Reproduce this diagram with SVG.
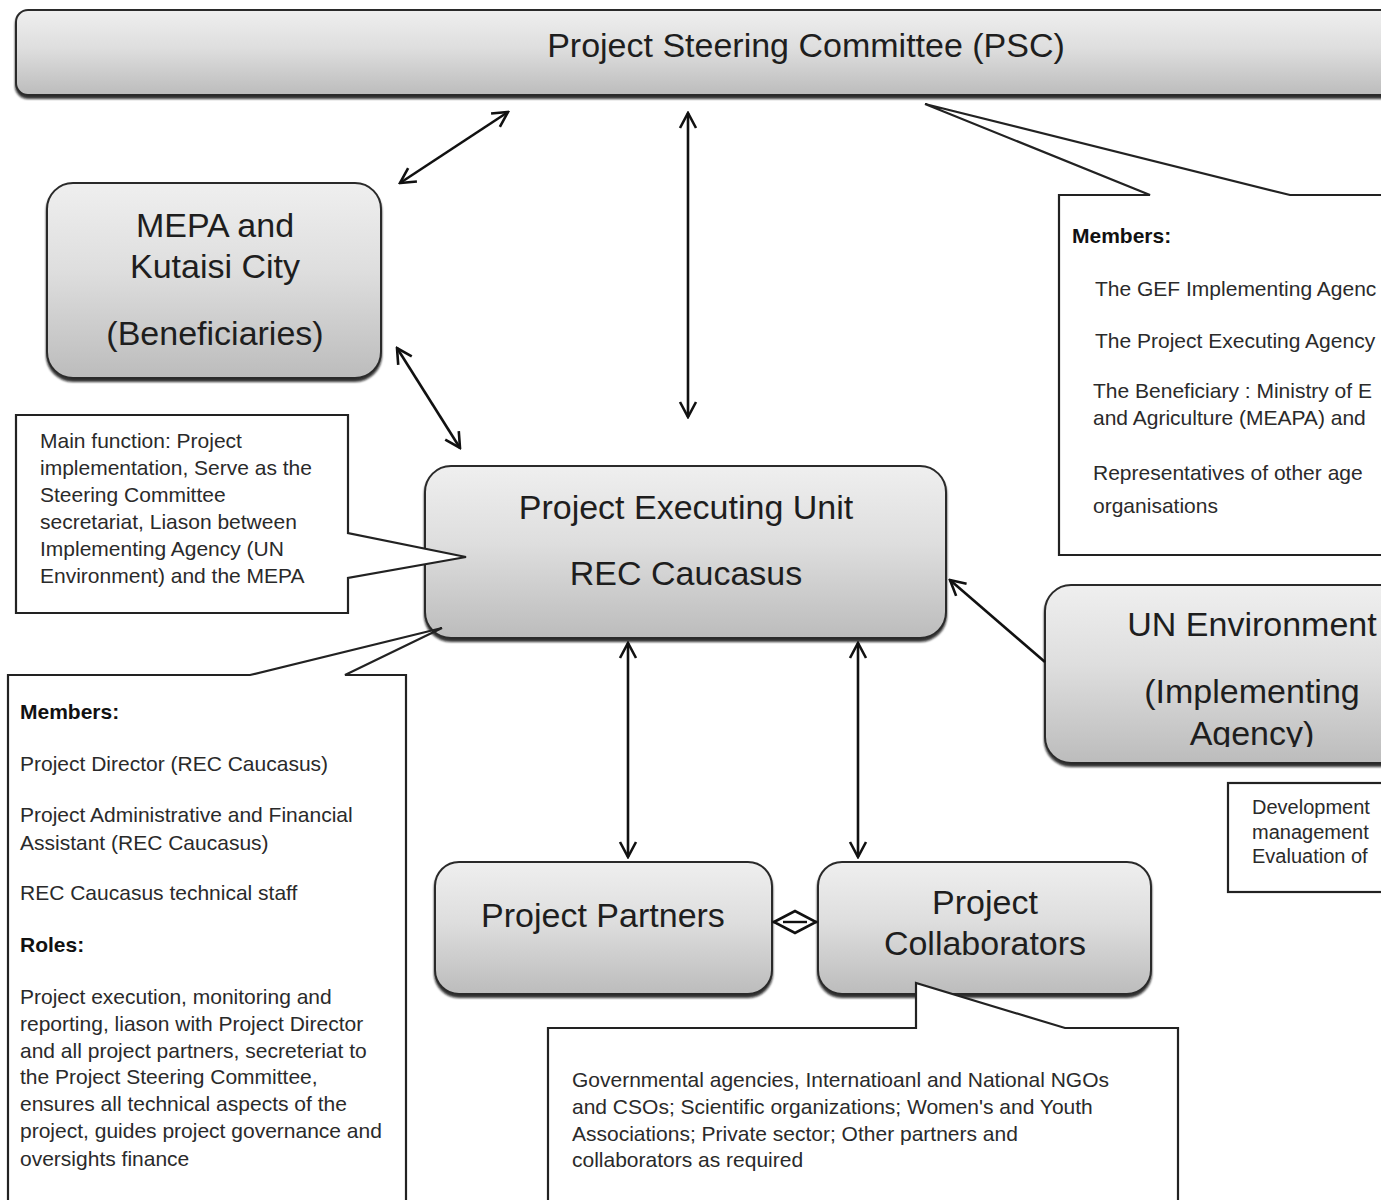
<svg xmlns="http://www.w3.org/2000/svg" width="1381" height="1200" viewBox="0 0 1381 1200">
  <style>
    .box { fill: url(#boxFill); stroke: #2b2b2b; stroke-width: 2; filter: url(#shadow); }
    .big { font-family: "Liberation Sans", Arial, sans-serif; font-size: 34px; fill: #1e1e1e; text-anchor: middle; }
    .note { fill: #fff; stroke: #222; stroke-width: 2.2; stroke-linejoin: miter; }
    .small { font-family: "Liberation Sans", Arial, sans-serif; font-size: 21px; fill: #2a2a2a; }
    .bold { font-weight: bold; fill: #111; }
    .link { stroke: #111; stroke-width: 2.6; fill: none; }
  </style>
  <defs>
    <linearGradient id="boxFill" x1="0" y1="0" x2="0" y2="1">
      <stop offset="0" stop-color="#efefef"/>
      <stop offset="0.45" stop-color="#dedede"/>
      <stop offset="1" stop-color="#bcbcbc"/>
    </linearGradient>
    <filter id="shadow" x="-5%" y="-5%" width="110%" height="120%">
      <feDropShadow dx="0" dy="3" stdDeviation="1.2" flood-color="#111" flood-opacity="0.85"/>
    </filter>
    <marker id="head" viewBox="0 0 20 20" refX="18" refY="10" markerWidth="20" markerHeight="20" markerUnits="userSpaceOnUse" orient="auto-start-reverse">
      <path d="M3,2 L18,10 L3,18" fill="none" stroke="#111" stroke-width="2.6"/>
    </marker>
    <clipPath id="unClip">
      <rect x="1040" y="580" width="345" height="167"/>
    </clipPath>
  </defs>

  <!-- Project Steering Committee -->
  <g id="psc">
    <rect class="box" x="16" y="10" width="1400" height="85" rx="12"/>
    <text class="big" x="806" y="57">Project Steering Committee (PSC)</text>
  </g>

  <!-- Beneficiaries -->
  <g id="mepa">
    <rect class="box" x="47" y="183" width="334" height="195" rx="26"/>
    <text class="big" x="215" y="237">MEPA and</text>
    <text class="big" x="215" y="278">Kutaisi City</text>
    <text class="big" x="215" y="345">(Beneficiaries)</text>
  </g>

  <!-- Project Executing Unit -->
  <g id="peu">
    <rect class="box" x="425" y="466" width="521" height="172" rx="26"/>
    <text class="big" x="686" y="519">Project Executing Unit</text>
    <text class="big" x="686" y="585">REC Caucasus</text>
  </g>

  <!-- Implementing agency -->
  <g id="un-environment">
    <rect class="box" x="1045" y="585" width="380" height="178" rx="26"/>
    <g clip-path="url(#unClip)">
      <text class="big" x="1252" y="636">UN Environment</text>
      <text class="big" x="1252" y="703">(Implementing</text>
      <text class="big" x="1252" y="745">Agency)</text>
    </g>
  </g>

  <!-- Partners and collaborators -->
  <g id="partners">
    <rect class="box" x="435" y="862" width="337" height="132" rx="24"/>
    <text class="big" x="603" y="927">Project Partners</text>
  </g>
  <g id="collaborators">
    <rect class="box" x="818" y="862" width="333" height="132" rx="24"/>
    <text class="big" x="985" y="914">Project</text>
    <text class="big" x="985" y="955">Collaborators</text>
  </g>

  <!-- Callout: PSC members -->
  <g id="psc-members">
    <path class="note" d="M1059,195 L1150,195 L925,104 L1290,195 L1400,195 L1400,555 L1059,555 Z"/>
    <text class="small bold" x="1072" y="243">Members:</text>
    <text class="small" x="1095" y="296">The GEF Implementing Agenc</text>
    <text class="small" x="1095" y="348">The Project Executing Agency</text>
    <text class="small" x="1093" y="398">The Beneficiary : Ministry of E</text>
    <text class="small" x="1093" y="425">and Agriculture (MEAPA) and</text>
    <text class="small" x="1093" y="480">Representatives of other age</text>
    <text class="small" x="1093" y="513">organisations</text>
  </g>

  <!-- Callout: PEU main function -->
  <g id="peu-function">
    <path class="note" d="M16,415 L348,415 L348,533 L466,557 L348,578 L348,613 L16,613 Z"/>
    <text class="small" x="40" y="448">Main function: Project</text>
    <text class="small" x="40" y="475">implementation, Serve as the</text>
    <text class="small" x="40" y="502">Steering Committee</text>
    <text class="small" x="40" y="529">secretariat, Liason between</text>
    <text class="small" x="40" y="556">Implementing Agency (UN</text>
    <text class="small" x="40" y="583">Environment) and the MEPA</text>
  </g>

  <!-- Callout: PEU members and roles -->
  <g id="peu-members">
    <path class="note" d="M8,675 L250,675 L442,628 L345,675 L406,675 L406,1210 L8,1210 Z"/>
    <text class="small bold" x="20" y="719">Members:</text>
    <text class="small" x="20" y="771">Project Director (REC Caucasus)</text>
    <text class="small" x="20" y="822">Project Administrative and Financial</text>
    <text class="small" x="20" y="850">Assistant (REC Caucasus)</text>
    <text class="small" x="20" y="900">REC Caucasus technical staff</text>
    <text class="small bold" x="20" y="952">Roles:</text>
    <text class="small" x="20" y="1004">Project execution, monitoring and</text>
    <text class="small" x="20" y="1031">reporting, liason with Project Director</text>
    <text class="small" x="20" y="1058">and all project partners, secreteriat to</text>
    <text class="small" x="20" y="1084">the Project Steering Committee,</text>
    <text class="small" x="20" y="1111">ensures all technical aspects of the</text>
    <text class="small" x="20" y="1138">project, guides project governance and</text>
    <text class="small" x="20" y="1166">oversights finance</text>
  </g>

  <!-- Callout: implementing agency tasks -->
  <g id="un-tasks">
    <rect class="note" x="1228" y="783" width="180" height="109"/>
    <text class="small" x="1252" y="814" style="font-size:20px">Development</text>
    <text class="small" x="1252" y="839" style="font-size:20px">management</text>
    <text class="small" x="1252" y="863" style="font-size:20px">Evaluation of</text>
  </g>

  <!-- Callout: collaborators -->
  <g id="collaborator-list">
    <path class="note" d="M548,1028 L916,1028 L916,983 L1065,1028 L1178,1028 L1178,1210 L548,1210 Z"/>
    <text class="small" x="572" y="1087">Governmental agencies, Internatioanl and National NGOs</text>
    <text class="small" x="572" y="1114">and CSOs; Scientific organizations; Women's and Youth</text>
    <text class="small" x="572" y="1141">Associations; Private sector; Other partners and</text>
    <text class="small" x="572" y="1167">collaborators as required</text>
  </g>

  <!-- Connectors -->
  <g id="connectors">
    <line class="link" x1="508" y1="112" x2="400" y2="183" marker-start="url(#head)" marker-end="url(#head)"/>
    <line class="link" x1="688" y1="113" x2="688" y2="417" marker-start="url(#head)" marker-end="url(#head)"/>
    <line class="link" x1="397" y1="348" x2="460" y2="448" marker-start="url(#head)" marker-end="url(#head)"/>
    <line class="link" x1="628" y1="643" x2="628" y2="857" marker-start="url(#head)" marker-end="url(#head)"/>
    <line class="link" x1="858" y1="643" x2="858" y2="857" marker-start="url(#head)" marker-end="url(#head)"/>
    <line class="link" x1="1045" y1="662" x2="950" y2="580" marker-end="url(#head)"/>
    <line class="link" x1="773" y1="922" x2="817" y2="922"/>
    <path d="M774,922 L795,911 L816,922 L795,933 Z" fill="#fff" stroke="#111" stroke-width="2.6"/>
    <line x1="783" y1="922" x2="807" y2="922" stroke="#111" stroke-width="2.4"/>
  </g>
</svg>
